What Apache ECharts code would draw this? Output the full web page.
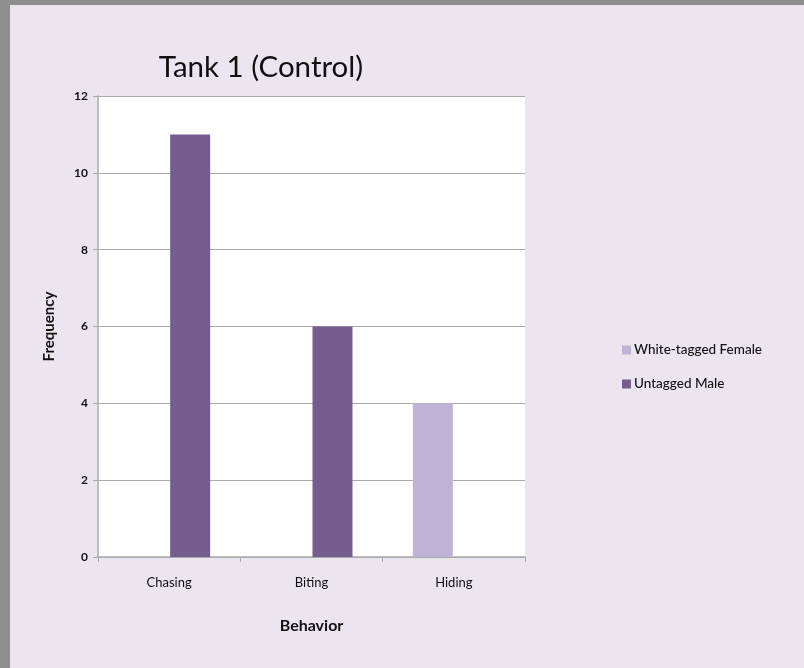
<!DOCTYPE html>
<html>
<head>
<meta charset="utf-8">
<script src="https://cdn.jsdelivr.net/npm/echarts@6/dist/echarts.min.js"></script>
<style>
html,body{margin:0;padding:0;background:#ebe5f0;}
#chart{width:804px;height:668px;}
</style>
</head>
<body>
<div id="chart"></div>
<script>
const categories = ['Chasing', 'Biting', 'Hiding'];
const femaleValues = [0, 0, 4];
const maleValues = [11, 6, 0];
const seriesNames = ['White-tagged Female', 'Untagged Male'];
const yTicks = { min: 0, max: 12, interval: 2 };

const chart = echarts.init(document.getElementById('chart'));
const font = 'Lato, "Open Sans", sans-serif';
chart.setOption({
  backgroundColor: '#ebe5f0',
  animation: false,
  title: {
    text: 'Tank 1 (Control)',
    left: 256, top: 47, textAlign: 'center',
    textStyle: { fontFamily: font, fontSize: 29.5, fontWeight: 'normal', color: '#111' }
  },
  graphic: [
    { type: 'rect', left: 0, top: 0, shape: { width: 804, height: 5 }, style: { fill: '#8e8e8e' }, z: 100 },
    { type: 'rect', left: 0, top: 0, shape: { width: 10, height: 668 }, style: { fill: '#8e8e8e' }, z: 100 }
  ],
  legend: {
    orient: 'vertical',
    left: 617, top: 338,
    itemWidth: 9, itemHeight: 9, itemGap: 20,
    icon: 'rect',
    textStyle: { fontFamily: font, fontSize: 13.5, fontWeight: 500, color: '#111', padding: [0, 0, 0, -2] },
    data: seriesNames
  },
  grid: { left: 98, right: 279, top: 96, bottom: 111, show: true, backgroundColor: '#ffffff', borderWidth: 0 },
  xAxis: {
    type: 'category',
    data: categories,
    name: 'Behavior', nameLocation: 'middle', nameGap: 61,
    nameTextStyle: { fontFamily: font, fontSize: 16, fontWeight: 'bold', color: '#111' },
    axisLine: { lineStyle: { color: '#aaaaaa', width: 1.5 } },
    axisTick: { show: true, length: 5, lineStyle: { color: '#aaaaaa' } },
    axisLabel: { fontFamily: font, fontSize: 13, color: '#111', margin: 19 }
  },
  yAxis: {
    type: 'value',
    min: yTicks.min, max: yTicks.max, interval: yTicks.interval,
    name: 'Frequency', nameLocation: 'middle', nameGap: 41, nameRotate: 90,
    nameTextStyle: { fontFamily: font, fontSize: 15, fontWeight: 'bold', color: '#111' },
    axisLine: { show: true, lineStyle: { color: '#aaaaaa', width: 1.5 } },
    axisTick: { show: true, length: 5, lineStyle: { color: '#aaaaaa' } },
    axisLabel: { fontFamily: font, fontSize: 12, fontWeight: 'bold', color: '#111', margin: 10 },
    splitLine: { lineStyle: { color: '#aaaaaa', width: 1 } }
  },
  series: [
    { name: seriesNames[0], type: 'bar', data: femaleValues, barWidth: 40, barGap: '5%', itemStyle: { color: '#c0b2d5' } },
    { name: seriesNames[1], type: 'bar', data: maleValues, barWidth: 40, itemStyle: { color: '#755d8f' } }
  ]
});
</script>
</body>
</html>
